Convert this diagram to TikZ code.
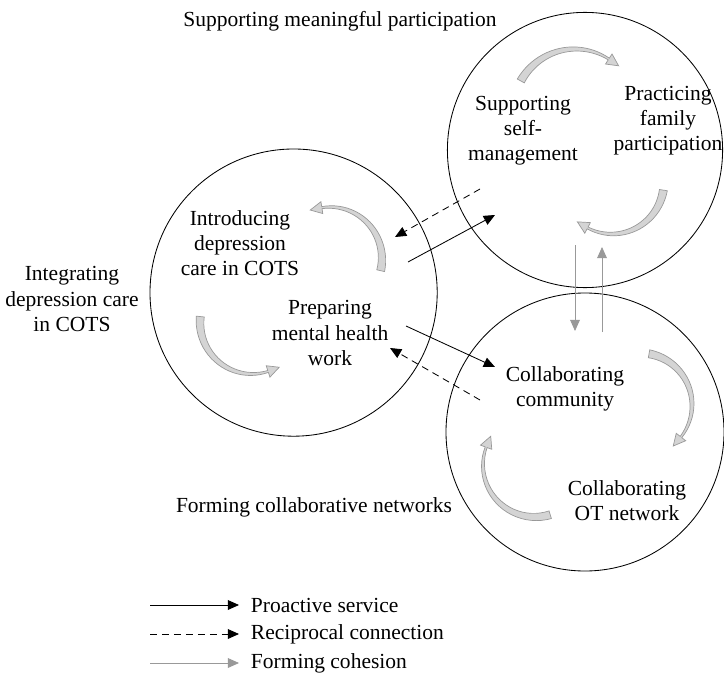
\documentclass[tikz,border=0pt]{standalone}
\usepackage{fontspec}
\setmainfont{Liberation Serif}
\usetikzlibrary{arrows.meta}

% curved grey arrow: centre, radius, start angle, end angle, tip angle
\newcommand{\cohesion}[5]{%
  \filldraw[cohesionarc, shift={#1}]
    plot[domain=#3:#4, samples=25, variable=\t] (\t:{#2+0.1-0.075*(\t-(#3))/((#4)-(#3))})
    -- ({#4}:{#2+0.15}) -- ({#5}:{#2+0.02}) -- ({#4}:{#2-0.15})
    -- plot[domain=#4:#3, samples=25, variable=\t] (\t:{#2-0.1+0.075*(\t-(#3))/((#4)-(#3))})
    -- cycle;}

\begin{document}
\begin{tikzpicture}[
  txt/.style={align=center, font=\fontsize{15.3}{17.8}\selectfont},
  ring/.style={line width=0.6pt},
  proactive/.style={-{Triangle[length=8pt,width=7pt]}, line width=0.6pt},
  reciprocal/.style={proactive, dash pattern=on 5pt off 3.5pt},
  cohesion/.style={-{Triangle[length=8pt,width=7pt]}, draw=black!40, line width=0.6pt},
  cohesionarc/.style={fill=black!17, draw=black!40, line width=0.5pt}]
\useasboundingbox (0,0) rectangle (18.1,16.875);

% three circles
\draw[ring] (7.34,9.56) circle (3.59);
\draw[ring] (14.625,13.125) circle (3.44);
\draw[ring] (14.625,6.075) circle (3.475);

% labels
\node[txt] (suppmp) at (8.5,16.35) {Supporting meaningful participation};
\node[txt] (integr) at (1.8,9.4) {Integrating\\depression care\\in COTS};
\node[txt] (formcn) at (7.85,4.2) {Forming collaborative networks};

\node[txt] (intro) at (6.0,10.8) {Introducing\\depression\\care in COTS};
\node[txt] (prep) at (8.25,8.55) {Preparing\\mental health\\work};
\node[txt] (selfm) at (13.075,13.6) {Supporting\\self-\\management};
\node[txt] (family) at (16.7,13.85) {Practicing\\family\\participation};
\node[txt] (commun) at (14.125,7.15) {Collaborating\\community};
\node[txt] (otnet) at (15.675,4.35) {Collaborating\\OT network};

% curved arrows inside the circles
\cohesion{(8.25,10.4)}{1.3}{-13}{99}{112}
\cohesion{(6.3,8.825)}{1.3}{174}{288}{301}
\cohesion{(14.375,14.1)}{1.55}{151}{57}{46}
\cohesion{(15.3,12.325)}{1.3}{-9}{-118}{-131}
\cohesion{(16.0,6.75)}{1.3}{80}{-38}{-51}
\cohesion{(13.375,5.25)}{1.3}{287}{160}{147}

% connectors between circles
\coordinate (psA) at (10.2,10.325);
\coordinate (psB) at (12.375,11.5);
\coordinate (rcA) at (12.0,12.15);
\coordinate (rcB) at (9.875,10.95);
\coordinate (psC) at (10.15,8.725);
\coordinate (psD) at (12.375,7.7);
\coordinate (rcC) at (12.0,6.875);
\coordinate (rcD) at (9.75,8.175);
\draw[proactive] (psA) -- (psB);
\draw[reciprocal] (rcA) -- (rcB);
\draw[proactive] (psC) -- (psD);
\draw[reciprocal] (rcC) -- (rcD);

\coordinate (chA) at (14.375,10.75);
\coordinate (chB) at (14.375,8.6);
\coordinate (chC) at (15.05,8.575);
\coordinate (chD) at (15.05,10.7);
\draw[cohesion] (chA) -- (chB);
\draw[cohesion] (chC) -- (chD);

% legend
\coordinate (lgA) at (3.75,1.75);
\coordinate (lgB) at (5.975,1.75);
\coordinate (lgC) at (3.75,1.025);
\coordinate (lgD) at (5.975,1.025);
\coordinate (lgE) at (3.75,0.3);
\coordinate (lgF) at (5.975,0.3);
\draw[proactive] (lgA) -- (lgB);
\draw[reciprocal] (lgC) -- (lgD);
\draw[cohesion] (lgE) -- (lgF);
\node[txt, anchor=west] (lgproact) at (6.15,1.75) {Proactive service};
\node[txt, anchor=west] (lgrecip) at (6.15,1.025) {Reciprocal connection};
\node[txt, anchor=west] (lgcohes) at (6.15,0.3) {Forming cohesion};
\end{tikzpicture}
\end{document}
